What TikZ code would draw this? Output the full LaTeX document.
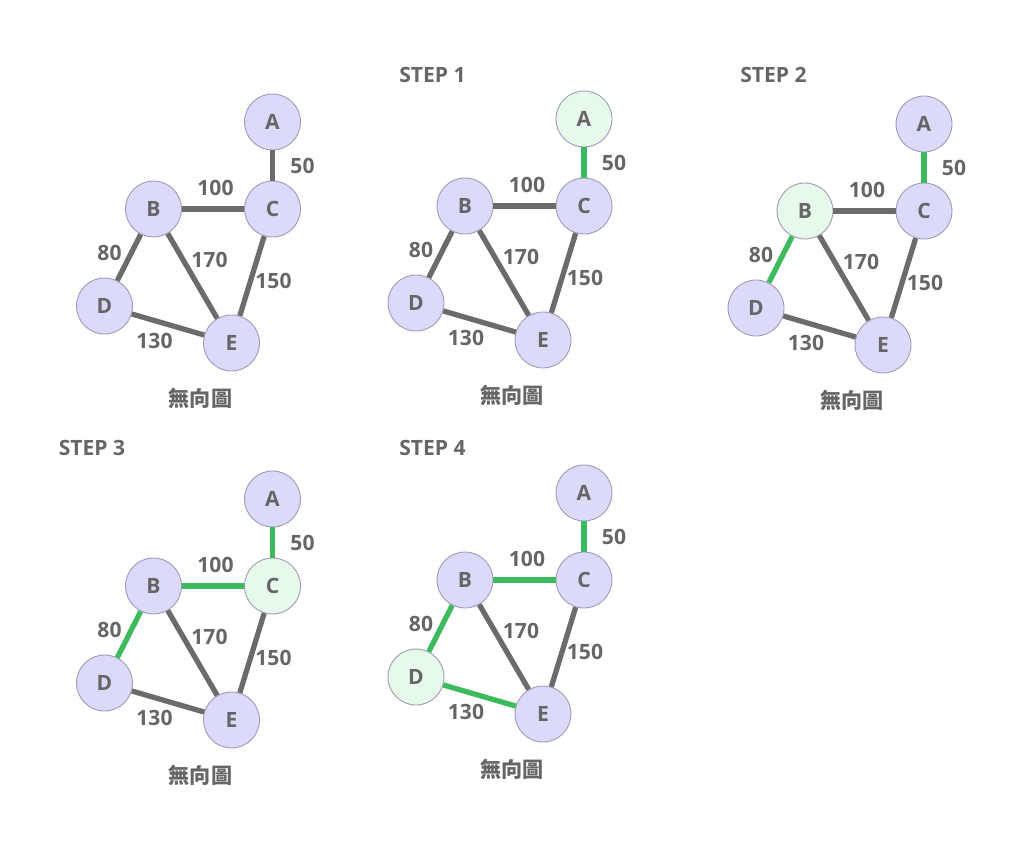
\documentclass[tikz,border=0pt]{standalone}
\usepackage{fontspec}
\setmainfont{Open Sans}
\newfontfamily\cjk{Noto Sans CJK TC}
\definecolor{myvert}{HTML}{DCDAFA}
\definecolor{mynew}{HTML}{E6F9EA}
\definecolor{myrim}{HTML}{9C9AB4}
\definecolor{myedge}{HTML}{6B6B6B}
\definecolor{mygreen}{HTML}{3DBA5E}
\definecolor{mytext}{HTML}{666666}
\begin{document}
\begin{tikzpicture}[x=0.02cm, y=-0.02cm,
    every node/.style={font=\fontsize{12}{14}\selectfont\bfseries, text=mytext},
    vold/.style={circle, draw=myrim, line width=0.5pt, fill=myvert,
                 minimum size=1.12cm, inner sep=0pt},
    vnew/.style={vold, fill=mynew},
    eold/.style={line width=3pt, myedge},
    enew/.style={line width=3pt, mygreen},
    ttl/.style={anchor=west, inner sep=0pt},
    captxt/.style={font=\cjk\fontsize{12}{14}\selectfont\bfseries}
  ]
  \useasboundingbox (0,0) rectangle (1024,841);
  % panel number / position of A / title offset
  \foreach \p/\ox/\oy/\tx/\ty in {0/272.5/122/0/0, 1/584/119/-185/-44,
      2/924/124/-184/-49, 3/272.5/499/-214/-51, 4/584/493/-185/-45} {
    \begin{scope}[shift={(\ox,\oy)}]
      \foreach \i/\n/\nx/\ny in {1/A/0/0, 2/B/-119/87, 3/C/0/87,
          4/D/-168/184, 5/E/-41/221} {
        \ifnum\i=\p \def\vs{vnew}\else\def\vs{vold}\fi
        \node[\vs] (\n\p) at (\nx,\ny) {\n};
      }
      % edges 1..4 turn green step by step
      \foreach \k/\u/\v/\w/\lx/\ly in {1/A/C/50/30/44, 2/B/D/80/-163/131,
          3/B/C/100/-57/66, 4/D/E/130/-118/219, 9/B/E/170/-63/138,
          9/C/E/150/1/159} {
        \ifnum\k>\p \def\es{eold}\else\def\es{enew}\fi
        \draw[\es] (\u\p) -- (\v\p);
        \node (w\u\v\p) at (\lx,\ly) {\w};
      }
      \ifnum\p>0 \node[ttl] (t\p) at (\tx,\ty) {STEP \p};\fi
      \node[captxt] (c\p) at (-72,276) {無向圖};
    \end{scope}
  }
\end{tikzpicture}
\end{document}
